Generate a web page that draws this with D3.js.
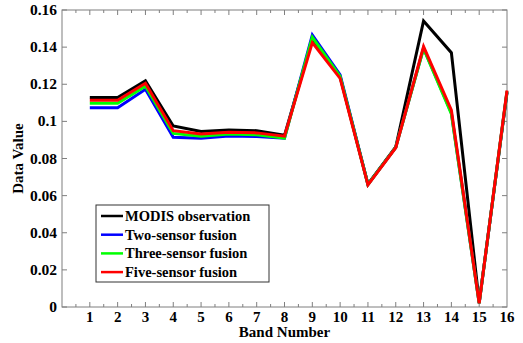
<!DOCTYPE html>
<html><head><meta charset="utf-8">
<script src="https://cdn.jsdelivr.net/npm/d3@7"></script>
<style>body{margin:0;background:#fff}</style>
</head><body>
<svg id="c" width="523" height="343"></svg>
<script>
const bands = [1,2,3,4,5,6,7,8,9,10,11,12,13,14,15,16];
const modis = [0.1128,0.1128,0.1218,0.0975,0.0945,0.0954,0.0950,0.0925,0.1440,0.1240,0.0662,0.0862,0.1541,0.1370,0.0025,0.1155];
const twoSensor = [0.1074,0.1074,0.1173,0.0914,0.0909,0.0921,0.0918,0.0910,0.1465,0.1250,0.0660,0.0860,0.1395,0.1045,0.0020,0.1160];
const threeSensor = [0.1097,0.1097,0.1190,0.0935,0.0920,0.0932,0.0928,0.0910,0.1453,0.1242,0.0660,0.0860,0.1392,0.1040,0.0020,0.1162];
const fiveSensor = [0.1114,0.1114,0.1205,0.0950,0.0932,0.0942,0.0938,0.0920,0.1424,0.1232,0.0658,0.0858,0.1403,0.1060,0.0020,0.1166];
const seriesNames = ["MODIS observation","Two-sensor fusion","Three-sensor fusion","Five-sensor fusion"];
const seriesColors = ["#000000","#0000ff","#00ff00","#ff0000"];
const yTicks = [0,0.02,0.04,0.06,0.08,0.1,0.12,0.14,0.16];
const yTickLabels = ["0","0.02","0.04","0.06","0.08","0.1","0.12","0.14","0.16"];

const svg = d3.select("#c");
const L=62,R=507,T=10,B=307;
const x = d3.scaleLinear().domain([0,16]).range([L,R]);
const y = d3.scaleLinear().domain([0,0.16]).range([B,T]);
const font = "'Liberation Serif','Times New Roman',serif";
const axisCol = "#7f7f7f";

// frame
svg.append("rect").attr("x",L).attr("y",T).attr("width",R-L).attr("height",B-T)
  .attr("fill","none").attr("stroke",axisCol).attr("stroke-width",1);

// x ticks (major at integers, minor at halves) bottom and top
const halfTicks = d3.range(0.5,16,0.5);
halfTicks.forEach(v=>{
  const major = Number.isInteger(v);
  const len = major?5:3;
  svg.append("line").attr("x1",x(v)).attr("x2",x(v)).attr("y1",B).attr("y2",B-len).attr("stroke",axisCol);
  svg.append("line").attr("x1",x(v)).attr("x2",x(v)).attr("y1",T).attr("y2",T+len).attr("stroke",axisCol);
});
// y ticks left and right
yTicks.forEach(v=>{
  svg.append("line").attr("x1",L).attr("x2",L+5).attr("y1",y(v)).attr("y2",y(v)).attr("stroke",axisCol);
  svg.append("line").attr("x1",R).attr("x2",R-5).attr("y1",y(v)).attr("y2",y(v)).attr("stroke",axisCol);
});

// tick labels
svg.append("g").selectAll("text").data(bands).join("text")
  .attr("x",d=>x(d)).attr("y",322).attr("text-anchor","middle")
  .attr("font-family",font).attr("font-weight","bold").attr("font-size",15).text(d=>d);
svg.append("g").selectAll("text").data(yTicks).join("text")
  .attr("x",57).attr("y",d=>y(d)+5).attr("text-anchor","end")
  .attr("font-family",font).attr("font-weight","bold").attr("font-size",15.5).text((d,i)=>yTickLabels[i]);

// axis titles
svg.append("text").attr("x",(L+R)/2).attr("y",337).attr("text-anchor","middle")
  .attr("font-family",font).attr("font-weight","bold").attr("font-size",15).text("Band Number");
svg.append("text").attr("transform",`translate(23,${(T+B)/2}) rotate(-90)`).attr("text-anchor","middle")
  .attr("font-family",font).attr("font-weight","bold").attr("font-size",15).text("Data Value");

// lines
const data = [modis,twoSensor,threeSensor,fiveSensor];
const line = d3.line().x((d,i)=>x(bands[i])).y(d=>y(d));
data.forEach((s,k)=>{
  svg.append("path").attr("d",line(s)).attr("fill","none").attr("stroke",seriesColors[k])
    .attr("stroke-width",3).attr("stroke-linejoin","miter");
});

// legend
const lg = svg.append("g");
lg.append("rect").attr("x",96).attr("y",205).attr("width",173).attr("height",77)
  .attr("fill","#fff").attr("stroke","#333").attr("stroke-width",1);
seriesNames.forEach((n,i)=>{
  const yy = 216 + i*18.7;
  lg.append("line").attr("x1",101).attr("x2",123).attr("y1",yy).attr("y2",yy)
    .attr("stroke",seriesColors[i]).attr("stroke-width",2.5);
  lg.append("text").attr("x",125).attr("y",yy+5).attr("font-family",font).attr("font-weight","bold")
    .attr("font-size",14.5).text(n);
});
</script>
</body></html>
